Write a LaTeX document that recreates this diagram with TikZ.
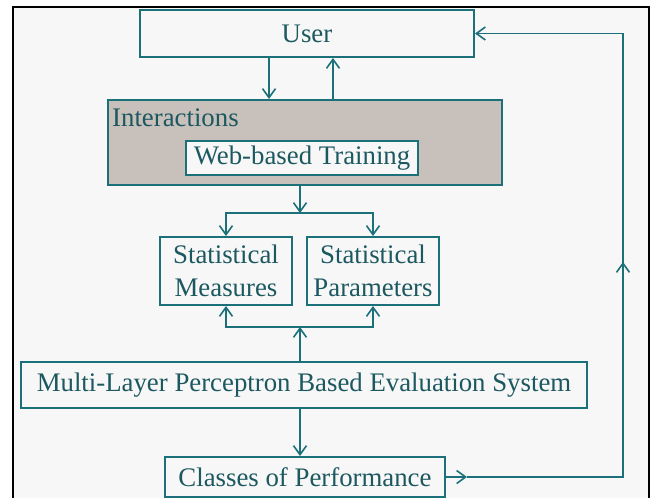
\documentclass[tikz,border=0pt]{standalone}
\usepackage{fontspec}
\setmainfont{Liberation Serif}
\usetikzlibrary{arrows.meta}

\definecolor{tealline}{RGB}{28,112,122}
\definecolor{tealtext}{RGB}{28,88,96}
\definecolor{boxgray}{RGB}{200,192,186}
\definecolor{pagegray}{RGB}{247,247,247}

\begin{document}
\begin{tikzpicture}[x=1pt,y=-1pt,
    box/.style={draw=tealline, line width=2pt, fill=pagegray, inner sep=0pt,
      text=tealtext, align=center, font=\fontsize{26.8}{33}\selectfont},
    conn/.style={draw=tealline, line width=1.6pt},
    >={Straight Barb[length=9pt,width=13pt]}]
      \useasboundingbox (0,0) rectangle (651,498);
      \clip (0,0) rectangle (651,498);
      \fill[white] (0,0) rectangle (651,498);
      \draw[line width=2.6pt, fill=pagegray] (13,7) rectangle (649,530);

      \node[box, minimum width=334pt, minimum height=47pt] (user) at (307,33.5) {User};
      \node[box, fill=boxgray, minimum width=394pt, minimum height=85pt] (inter) at (305,142.5) {};
      \node[text=tealtext, anchor=west, inner sep=0pt, font=\fontsize{26.8}{33}\selectfont] (ilabel) at (112,118) {Interactions};
      \node[box, minimum width=232pt, minimum height=34pt] (web) at (302,158) {Web-based Training};

      \node[box, minimum width=132pt, minimum height=68pt] (meas) at (226,271) {Statistical\\Measures};
      \node[box, minimum width=132pt, minimum height=68pt] (params) at (373,271) {Statistical\\Parameters};

      \node[box, minimum width=566pt, minimum height=46pt] (mlp) at (304,385) {Multi-Layer Perceptron Based Evaluation System};
      \node[box, minimum width=280pt, minimum height=40pt] (classes) at (305,477) {Classes of Performance};

      \coordinate (udown) at (269,0);
      \coordinate (uup) at (333,0);
      \coordinate (split) at (300,213);
      \coordinate (join) at (300,327);
      \coordinate (fbright) at (623,477);
      \coordinate (fbmid) at (623,262);
      \coordinate (ctip) at (467,477);

      \draw[conn,->] (udown |- user.south) -- (udown |- inter.north);
      \draw[conn,->] (uup |- inter.north) -- (uup |- user.south);

      \draw[conn,->] (split |- inter.south) -- (split);
      \draw[conn,->] (split) -| (meas.north);
      \draw[conn,->] (split) -| (params.north);

      \draw[conn,->] (join |- mlp.north) -- (join);
      \draw[conn,->] (join) -| (meas.south);
      \draw[conn,->] (join) -| (params.south);

      \draw[conn,->] (join |- mlp.south) -- (join |- classes.north);

      \draw[conn,->] (classes.east) -- (ctip);
      \draw[conn,->] (ctip) -- (fbright) |- (user.east);
      \draw[conn,->] (fbright) -- (fbmid);
    \end{tikzpicture}
\end{document}
